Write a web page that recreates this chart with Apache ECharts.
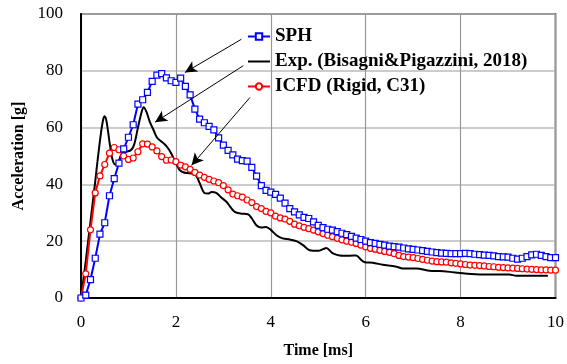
<!DOCTYPE html>
<html lang="en">
<head>
    <meta charset="UTF-8">
    <title>Acceleration</title>
    <script src="https://cdn.jsdelivr.net/npm/echarts@6/dist/echarts.min.js"></script>
</head>
<body style="margin:0">
<div id="chartmain" style="width:567px;height:364px"></div>
<script type="text/javascript">
    // sample times of the two simulations [ms]
    var simTime = [0, 0.1, 0.2, 0.3, 0.4, 0.5, 0.6, 0.7, 0.8, 0.9,
        1.0, 1.1, 1.2, 1.3, 1.4, 1.5, 1.6, 1.7, 1.8, 1.9,
        2.0, 2.1, 2.2, 2.3, 2.4, 2.5, 2.6, 2.7, 2.8, 2.9,
        3.0, 3.1, 3.2, 3.3, 3.4, 3.5, 3.6, 3.7, 3.8, 3.9,
        4.0, 4.1, 4.2, 4.3, 4.4, 4.5, 4.6, 4.7, 4.8, 4.9,
        5.0, 5.1, 5.2, 5.3, 5.4, 5.5, 5.6, 5.7, 5.8, 5.9,
        6.0, 6.1, 6.2, 6.3, 6.4, 6.5, 6.6, 6.7, 6.8, 6.9,
        7.0, 7.1, 7.2, 7.3, 7.4, 7.5, 7.6, 7.7, 7.8, 7.9,
        8.0, 8.1, 8.2, 8.3, 8.4, 8.5, 8.6, 8.7, 8.8, 8.9,
        9.0, 9.1, 9.2, 9.3, 9.4, 9.5, 9.6, 9.7, 9.8, 9.9, 10.0];

    var sphAcc = [0, 1, 6.5, 14, 22.5, 26.5, 36, 42, 47.5, 52.5,
        56.6, 61, 68.3, 69.8, 72.4, 76.3, 78.5, 79, 77.5, 76.5,
        75.9, 77.4, 74.5, 71.5, 66.5, 63, 61.7, 60.4, 59.2, 56.4,
        53.8, 52, 50.4, 48.9, 48.4, 48.2, 46, 42.9, 39.6, 37.9,
        37.3, 36.5, 35.2, 33.4, 31.5, 30.3, 29.3, 28.4, 28, 26.8,
        25.6, 24.8, 24.2, 23.9, 23.4, 22.8, 22.3, 21.7, 21.1, 20.6,
        20, 19.5, 19.2, 18.9, 18.6, 18.3, 18.1, 17.9, 17.6, 17.3,
        17.1, 16.9, 16.7, 16.4, 16.2, 16, 15.8, 15.7, 15.6, 15.6,
        15.6, 15.7, 15.6, 15.4, 15.3, 15.1, 15, 14.8, 14.6, 14.5,
        14.4, 14, 13.7, 14, 14.6, 15.2, 15.4, 15, 14.6, 14.2, 14.2];

    var icfdAcc = [0, 8.5, 24, 37, 43, 47, 51, 53, 52.2, 50,
        48.8, 49.3, 51.5, 54.3, 54.2, 53.2, 51.8, 49.8, 48.5, 48.6,
        48, 46.8, 46.2, 45.3, 44.2, 43.3, 42.5, 41.8, 41.2, 40.6,
        39.6, 38.1, 36.6, 36, 35.5, 34.5, 33.6, 32.2, 31.5, 30.5,
        30, 28.8, 28.2, 27.8, 27, 26, 25.4, 24.9, 24.4, 23.9,
        23.3, 22.7, 22.1, 21.6, 21, 20.5, 20, 19.6, 19.2, 18.6,
        18, 17.5, 17.2, 16.8, 16.4, 16.1, 15.6, 15, 14.6, 14.4,
        14.2, 13.9, 13.6, 13.3, 13, 12.8, 12.7, 12.6, 12.4, 12.2,
        12, 11.8, 11.6, 11.5, 11.4, 11.3, 11.1, 11, 10.8, 10.7,
        10.6, 10.5, 10.4, 10.3, 10.2, 10.1, 10, 9.9, 9.9, 9.8, 9.8];

    // experiment (Bisagni & Pigazzini, 2018)
    var expTime = [0, 0.1, 0.2, 0.3, 0.35, 0.42, 0.47, 0.5, 0.54, 0.6, 0.66, 0.72, 0.78, 0.85, 0.95,
        1.05, 1.12, 1.2, 1.27, 1.32, 1.38, 1.45, 1.52, 1.6, 1.7, 1.8, 1.9, 2.0, 2.08, 2.15,
        2.25, 2.35, 2.43, 2.5, 2.6, 2.68, 2.75, 2.85, 2.95, 3.07, 3.15, 3.24, 3.38, 3.52, 3.6,
        3.7, 3.8, 3.9, 4.0, 4.12, 4.25, 4.4, 4.54, 4.68, 4.82, 5.0, 5.1, 5.17, 5.3, 5.45,
        5.66, 5.8, 5.9, 5.98, 6.15, 6.36, 6.5, 6.65, 6.78, 7.07, 7.35, 7.55, 7.77, 8.05, 8.47,
        9.03, 9.17, 9.84];
    var expAcc = [0, 13, 27, 41, 48.5, 58, 63, 64, 62, 55, 49, 47, 47.5, 50.5, 51.5,
        52, 54, 60, 65, 67.2, 65.5, 62, 59.5, 56.5, 55, 53.5, 51, 47.5, 45, 44.3,
        44, 43.8, 43, 40.5, 37, 36.8, 37.3, 37, 35.5, 33.8, 32, 30.3, 29.7, 29.5, 28,
        25.5, 24.8, 25, 24, 22.1, 21, 20.6, 20, 18.6, 16.8, 16.6, 17.2, 17.6, 15.8, 15,
        14.9, 15, 13.5, 12.6, 12.4, 11.7, 11.4, 11, 10.4, 10.4, 9.6, 9.5, 9.2, 8.7, 8.3,
        8.3, 7.8, 7.8];

    // arrows from the legend to the curves: [start, tip] in data units
    var arrowSph = [[3.38, 91.1], [2.19, 79.4]];
    var arrowExp = [[3.42, 81.8], [1.56, 61.9]];
    var arrowIcfd = [[3.56, 70.6], [2.33, 46.7]];

    function pairs(t, v) {
        return t.map(function (x, i) { return [x, v[i]]; });
    }
    function arrow(a) {
        return [{coord: a[0]}, {coord: a[1]}];
    }

    var serif = '"Liberation Serif", "Times New Roman", serif';
    var myChart = echarts.init(document.getElementById('chartmain'));
    var option = {
        animation: false,
        grid: {
            left: 81, right: 11, top: 14, bottom: 66,
            show: true, borderColor: '#000', borderWidth: 1.5
        },
        legend: {
            orient: 'vertical',
            left: 242, top: 22,
            itemWidth: 22, itemHeight: 8, itemGap: 6,
            data: [
                'SPH',
                {name: 'Exp. (Bisagni&Pigazzini, 2018)', itemStyle: {color: 'rgba(0,0,0,0)', borderColor: 'rgba(0,0,0,0)'}},
                'ICFD (Rigid, C31)'
            ],
            textStyle: {fontFamily: serif, fontWeight: 'bold', fontSize: 19, color: '#000'}
        },
        xAxis: {
            type: 'value', min: 0, max: 10, interval: 2,
            name: 'Time [ms]', nameLocation: 'middle', nameGap: 45,
            nameTextStyle: {fontFamily: serif, fontWeight: 'bold', fontSize: 16, color: '#000'},
            axisLine: {lineStyle: {color: '#000', width: 2}},
            axisTick: {show: false},
            axisLabel: {fontFamily: serif, fontSize: 17, color: '#000', margin: 16},
            splitLine: {lineStyle: {color: '#999', width: 1.2}}
        },
        yAxis: {
            type: 'value', min: 0, max: 100, interval: 20,
            name: 'Acceleration [g]', nameLocation: 'middle', nameGap: 50,
            nameTextStyle: {fontFamily: serif, fontWeight: 'bold', fontSize: 16, color: '#000'},
            axisLine: {show: true, lineStyle: {color: '#000', width: 2}},
            axisTick: {show: false},
            axisLabel: {fontFamily: serif, fontSize: 17, color: '#000', margin: 18},
            splitLine: {lineStyle: {color: '#bbb', width: 1.5}}
        },
        series: [
            {
                name: 'Exp. (Bisagni&Pigazzini, 2018)',
                type: 'line',
                data: pairs(expTime, expAcc),
                showSymbol: false, symbol: 'none',
                smooth: 0.3,
                lineStyle: {color: '#000', width: 2},
                itemStyle: {color: '#000'},
                markLine: {
                    silent: true,
                    symbol: ['none', 'arrow'],
                    symbolSize: [9, 12],
                    label: {show: false},
                    lineStyle: {color: '#000', width: 1, type: 'solid'},
                    itemStyle: {color: '#000'},
                    data: [arrow(arrowSph), arrow(arrowExp), arrow(arrowIcfd)]
                }
            },
            {
                name: 'ICFD (Rigid, C31)',
                type: 'line',
                data: pairs(simTime, icfdAcc),
                symbol: 'circle', symbolSize: 6,
                lineStyle: {color: '#ff0000', width: 2},
                itemStyle: {color: '#fff', borderColor: '#ff0000', borderWidth: 1.2}
            },
            {
                name: 'SPH',
                type: 'line',
                data: pairs(simTime, sphAcc),
                symbol: 'rect', symbolSize: 6,
                lineStyle: {color: '#0000ff', width: 2},
                itemStyle: {color: '#fff', borderColor: '#0000ff', borderWidth: 1.2}
            }
        ]
    };
    myChart.setOption(option);
</script>
</body>
</html>
